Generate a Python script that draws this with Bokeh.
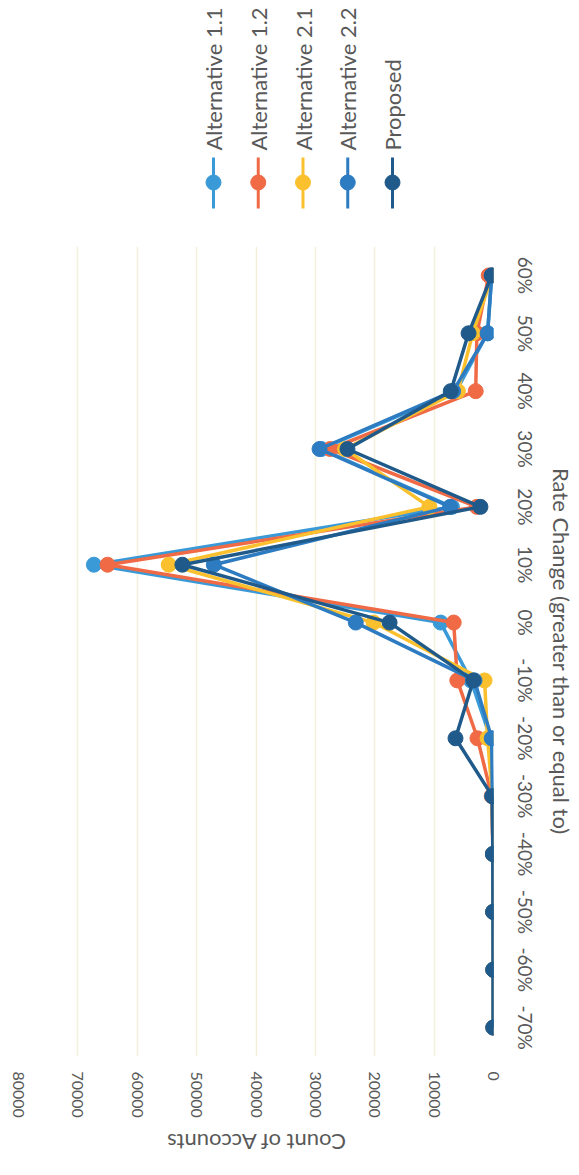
import math
from bokeh.plotting import figure
from bokeh.layouts import column
from bokeh.models import Range1d, FactorRange, FixedTicker
from bokeh.core.properties import value
from bokeh.embed import file_html
from bokeh.resources import INLINE

# ---- data ----
categories = ["-70%", "-60%", "-50%", "-40%", "-30%", "-20%", "-10%",
              "0%", "10%", "20%", "30%", "40%", "50%", "60%"]
series_names = ["Alternative 1.1", "Alternative 1.2", "Alternative 2.1",
                "Alternative 2.2", "Proposed"]
alt_1_1 = [30, 40, 60, 100, 200, 500, 3800, 8900, 67300, 7000, 29000, 6300, 1000, 300]
alt_1_2 = [30, 40, 60, 100, 300, 2700, 6100, 6700, 65000, 2800, 27500, 3000, 2800, 800]
alt_2_1 = [30, 40, 60, 100, 200, 1000, 1500, 20200, 54700, 10800, 25000, 6000, 3500, 200]
alt_2_2 = [30, 40, 60, 100, 200, 300, 3200, 23200, 47100, 7300, 29300, 6800, 1000, 300]
proposed = [30, 40, 60, 100, 200, 6400, 3400, 17500, 52400, 2200, 24600, 7200, 4200, 300]
value_ticks = [0, 10000, 20000, 30000, 40000, 50000, 60000, 70000, 80000]
value_tick_labels = ["0", "10000", "20000", "30000", "40000", "50000", "60000", "70000", "80000"]
value_axis_title = "Count of Accounts"
category_axis_title = "Rate Change (greater than or equal to)"

series_values = [alt_1_1, alt_1_2, alt_2_1, alt_2_2, proposed]
colors = ["#3A9AD8", "#EF6A45", "#FBC02D", "#2D7BC1", "#1F5A8A"]

FONT = "Lato"
TEXT_COLOR = "#595959"

W = 578
BORDER_L = 18
BORDER_R = 85
FRAME_W = W - BORDER_L - BORDER_R
LEG_H = 246

# ---- legend figure (rotated legend, on top) ----
leg = figure(width=W, height=LEG_H,
             x_range=Range1d(BORDER_L, BORDER_L + FRAME_W), y_range=Range1d(LEG_H, 0),
             x_axis_type=None, y_axis_type=None, output_backend="svg",
             toolbar_location=None, min_border_left=BORDER_L, min_border_right=BORDER_R,
             min_border_top=0, min_border_bottom=0)
leg.grid.visible = False
leg.outline_line_color = None
n = len(series_names)
leg_x = [213 + 44.75 * i for i in range(n)]
leg.segment(x0=leg_x, y0=[157] * n, x1=leg_x, y1=[208] * n, line_color=colors, line_width=3)
leg.scatter(x=leg_x, y=[182] * n, size=15, fill_color=colors, line_color=colors)
leg.text(x=leg_x, y=[150] * n, text=series_names, angle=math.pi / 2,
         text_align="left", text_baseline="middle",
         text_font=value(FONT), text_font_size="22px", text_color=TEXT_COLOR)

# ---- main figure ----
FRAME_H = 810
BORDER_B = 70
x_rng = Range1d(max(value_ticks), min(value_ticks))
p = figure(width=W, height=FRAME_H + BORDER_B,
           x_range=x_rng,
           y_range=FactorRange(factors=categories),
           x_axis_location="below", y_axis_location="right",
           output_backend="svg", toolbar_location=None,
           min_border_left=BORDER_L, min_border_right=BORDER_R,
           min_border_top=0, min_border_bottom=BORDER_B)
p.outline_line_color = None
p.background_fill_color = "white"

for name, vals, col in zip(series_names, series_values, colors):
    p.line(x=vals, y=categories, line_color=col, line_width=3.5)
    p.scatter(x=vals, y=categories, size=15, fill_color=col, line_color=col)

p.xaxis.ticker = FixedTicker(ticks=value_ticks)
p.xaxis.major_label_overrides = {t: l for t, l in zip(value_ticks, value_tick_labels)}
p.xgrid.ticker = FixedTicker(ticks=value_ticks)
p.xgrid.grid_line_color = "#F3F0DE"
p.xgrid.grid_line_width = 1.5
p.ygrid.visible = False

for ax in (p.xaxis, p.yaxis):
    ax.axis_line_color = None
    ax.major_tick_line_color = None
    ax.minor_tick_line_color = None
    ax.major_label_text_font = FONT
    ax.major_label_text_color = TEXT_COLOR
    ax.axis_label_text_font = FONT
    ax.axis_label_text_font_size = "22px"
    ax.axis_label_text_font_style = "normal"
    ax.axis_label_text_color = TEXT_COLOR

p.xaxis.major_label_text_font_size = "16px"
p.xaxis.major_label_orientation = "vertical"
p.xaxis.major_label_standoff = 9

p.yaxis.major_label_text_font_size = "19px"
p.yaxis.major_label_orientation = "vertical"
p.yaxis.major_label_standoff = 14
p.yaxis.axis_label = category_axis_title
p.yaxis.axis_label_orientation = "vertical"
p.yaxis.axis_label_standoff = 8

# ---- bottom strip: upside-down value-axis title ----
TH = 32
bt = figure(width=W, height=TH, x_range=x_rng, y_range=Range1d(0, TH),
            x_axis_type=None, y_axis_type=None, output_backend="svg",
            toolbar_location=None, min_border_left=BORDER_L, min_border_right=BORDER_R,
            min_border_top=0, min_border_bottom=0)
bt.grid.visible = False
bt.outline_line_color = None
bt.text(x=[(max(value_ticks) + min(value_ticks)) / 2], y=[TH / 2], text=[value_axis_title],
        angle=math.pi, text_align="center", text_baseline="middle",
        text_font=value(FONT), text_font_size="22px", text_color=TEXT_COLOR)

layout = column(leg, p, bt, spacing=0)
open("out.html", "w").write(file_html(layout, INLINE))
